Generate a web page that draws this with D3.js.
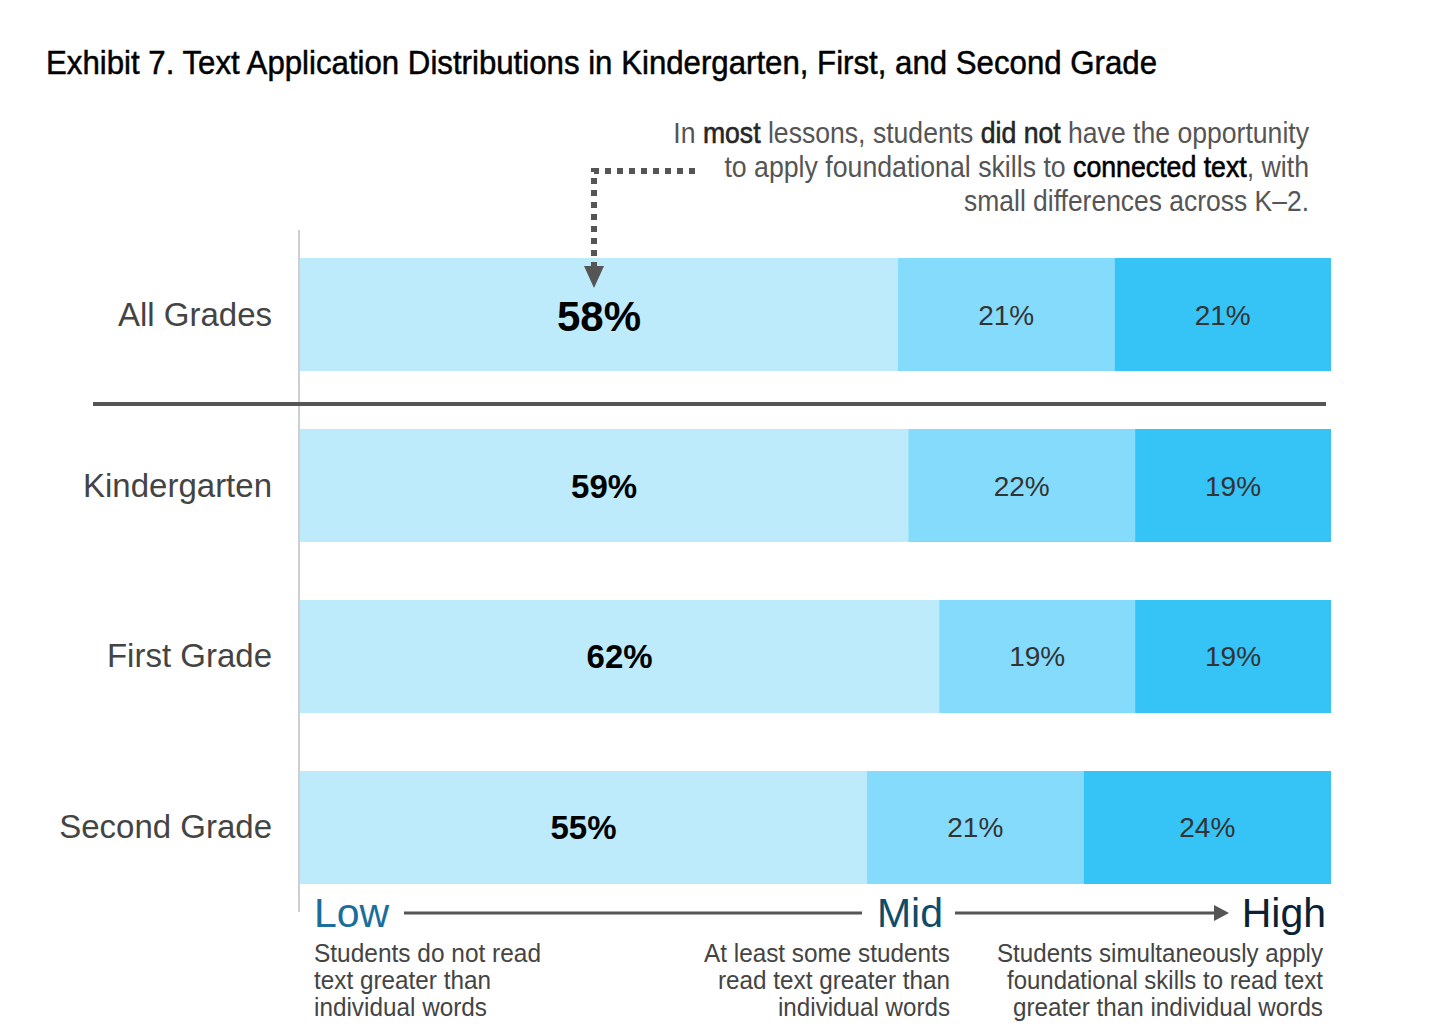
<!DOCTYPE html>
<html>
<head>
<meta charset="utf-8">
<script src="https://cdn.jsdelivr.net/npm/d3@7"></script>
<style>
  html, body { margin: 0; padding: 0; background: #fff; }
  svg { display: block; font-family: "Liberation Sans", Arial, sans-serif; }
</style>
</head>
<body>
<svg width="1456" height="1032"></svg>
<script>
// chart values
const categories = ['All Grades', 'Kindergarten', 'First Grade', 'Second Grade'];
const lowVals  = [58, 59, 62, 55];
const midVals  = [21, 22, 19, 21];
const highVals = [21, 19, 19, 24];
const levelNames = ['Low', 'Mid', 'High'];
const levelNotes = [
  ['Students do not read', 'text greater than', 'individual words'],
  ['At least some students', 'read text greater than', 'individual words'],
  ['Students simultaneously apply', 'foundational skills to read text', 'greater than individual words']
];
const title = 'Exhibit 7. Text Application Distributions in Kindergarten, First, and Second Grade';

const colors = ['#bdebfb', '#84dbfb', '#36c3f5'];

const svg = d3.select('svg');

const x = d3.scaleLinear().domain([0, 100]).range([300, 1331]);
const y = d3.scaleBand().domain(categories).range([258, 884]).paddingInner(0.339);

// title (condensed face in the original, so squeeze to its width)
svg.append('text')
  .attr('x', 46).attr('y', 74)
  .attr('font-size', 33)
  .attr('fill', '#000')
  .attr('stroke', '#000').attr('stroke-width', 0.5)
  .attr('textLength', 1111)
  .attr('lengthAdjust', 'spacingAndGlyphs')
  .text(title);

// annotation: mixed weights per line, squeezed horizontally with a scale
const note = [
  [['In ', 0], ['most', 1], [' lessons, students ', 0], ['did not', 1], [' have the opportunity', 0]],
  [['to apply foundational skills to ', 0], ['connected text', 2], [', with', 0]],
  [['small differences across K\u20132.', 0]]
];
const noteFill = ['#555', '#262626', '#000'];
const noteStroke = [0, 0.6, 0.6];
const noteWidths = [636, 585, 345];
note.forEach((line, i) => {
  const t = svg.append('text')
    .attr('x', 0).attr('y', 0)
    .attr('text-anchor', 'end')
    .attr('font-size', 29);
  line.forEach(s => {
    t.append('tspan')
      .attr('fill', noteFill[s[1]])
      .attr('stroke', noteFill[s[1]])
      .attr('stroke-width', noteStroke[s[1]])
      .text(s[0]);
  });
  const sx = noteWidths[i] / t.node().getComputedTextLength();
  t.attr('transform', `translate(1309, ${143 + i * 34}) scale(${sx}, 1)`);
});

// vertical axis line
svg.append('line')
  .attr('x1', 299).attr('x2', 299)
  .attr('y1', 230).attr('y2', 912)
  .attr('stroke', '#cfcfcf').attr('stroke-width', 2);

// bars
const rows = categories.map((c, i) => {
  const vals = [lowVals[i], midVals[i], highVals[i]];
  let acc = 0;
  return vals.map((v, j) => {
    const seg = { cat: c, row: i, level: j, v: v, x0: acc, x1: acc + v };
    acc += v;
    return seg;
  });
});

const g = svg.append('g');
const segs = g.selectAll('g.row')
  .data(rows)
  .enter().append('g')
  .attr('class', 'row')
  .selectAll('g.seg')
  .data(d => d)
  .enter().append('g')
  .attr('class', 'seg');

segs.append('rect')
  .attr('x', d => x(d.x0))
  .attr('y', d => y(d.cat))
  .attr('width', d => x(d.x1) - x(d.x0))
  .attr('height', y.bandwidth())
  .attr('fill', d => colors[d.level]);

segs.append('text')
  .attr('x', d => (x(d.x0) + x(d.x1)) / 2)
  .attr('y', d => {
    const c = y(d.cat) + y.bandwidth() / 2;
    if (d.level > 0) return c + 10;
    return d.row === 0 ? c + 16 : c + 12;
  })
  .attr('text-anchor', 'middle')
  .attr('font-size', d => d.level > 0 ? 28 : (d.row === 0 ? 42 : 33))
  .attr('font-weight', d => d.level === 0 ? 700 : 400)
  .attr('fill', d => d.level === 0 ? '#000' : '#333')
  .text(d => d.v + '%');

// category labels
svg.selectAll('text.cat')
  .data(categories)
  .enter().append('text')
  .attr('class', 'cat')
  .attr('x', 272)
  .attr('y', d => y(d) + y.bandwidth() / 2 + 11)
  .attr('text-anchor', 'end')
  .attr('font-size', 33)
  .attr('fill', '#444')
  .text(d => d);

// separator under All Grades
svg.append('line')
  .attr('x1', 93).attr('x2', 1326)
  .attr('y1', 404).attr('y2', 404)
  .attr('stroke', '#555').attr('stroke-width', 4);

// dotted pointer to 58%
svg.append('path')
  .attr('d', 'M695,171 H594 V268')
  .attr('fill', 'none')
  .attr('stroke', '#555')
  .attr('stroke-width', 6)
  .attr('stroke-dasharray', '6,6');
svg.append('path')
  .attr('d', 'M584,266 L604,266 L594,288 Z')
  .attr('fill', '#555');

// low -> mid -> high scale
const levelColors = ['#1a6e99', '#0e4d6a', '#0a2233'];
const levelX = [314, 943, 1326];
const levelAnchor = ['start', 'end', 'end'];
svg.selectAll('text.level')
  .data(levelNames)
  .enter().append('text')
  .attr('class', 'level')
  .attr('x', (d, i) => levelX[i])
  .attr('y', 927)
  .attr('text-anchor', (d, i) => levelAnchor[i])
  .attr('font-size', 41)
  .attr('fill', (d, i) => levelColors[i])
  .text(d => d);

svg.append('line')
  .attr('x1', 404).attr('x2', 862)
  .attr('y1', 913).attr('y2', 913)
  .attr('stroke', '#555').attr('stroke-width', 3);
svg.append('line')
  .attr('x1', 955).attr('x2', 1216)
  .attr('y1', 913).attr('y2', 913)
  .attr('stroke', '#555').attr('stroke-width', 3);
svg.append('path')
  .attr('d', 'M1214,905 L1229,913 L1214,921 Z')
  .attr('fill', '#555');

// level descriptions, squeezed to the widths in the original
const noteX = [314, 950, 1323];
const lineWidths = [[227, 177, 173], [246, 232, 172], [326, 316, 310]];
levelNotes.forEach((lines, i) => {
  svg.append('g')
    .selectAll('text')
    .data(lines)
    .enter().append('text')
    .attr('x', (d, k) => levelAnchor[i] === 'start' ? noteX[i] : noteX[i] - lineWidths[i][k])
    .attr('y', (d, k) => 962 + k * 27)
    .attr('font-size', 25)
    .attr('textLength', (d, k) => lineWidths[i][k])
    .attr('lengthAdjust', 'spacingAndGlyphs')
    .attr('fill', '#444')
    .text(d => d);
});
</script>
</body>
</html>
